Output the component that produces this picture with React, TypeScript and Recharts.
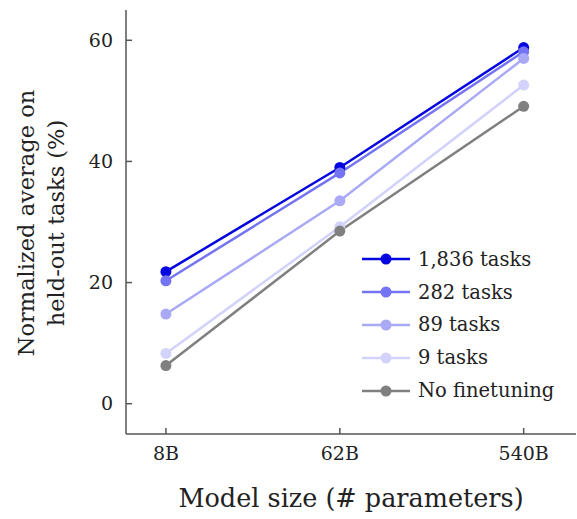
import React from 'react';
import { LineChart, Line, XAxis, YAxis, Legend } from 'recharts';

const modelSizes = [8, 62, 540];
const sizeLabels = ['8B', '62B', '540B'];
const tasks1836 = [21.8, 39.0, 58.8];
const tasks282 = [20.3, 38.1, 58.1];
const tasks89 = [14.8, 33.5, 57.0];
const tasks9 = [8.3, 29.2, 52.6];
const noFinetuning = [6.3, 28.5, 49.1];
const yTicks = [0, 20, 40, 60];

const seriesNames = ['1,836 tasks', '282 tasks', '89 tasks', '9 tasks', 'No finetuning'];
const seriesKeys = ['t1836', 't282', 't89', 't9', 'noft'];
const seriesColors = ['#0505e0', '#7474f2', '#a9a9f6', '#d2d2fa', '#808080'];
const seriesValues = [tasks1836, tasks282, tasks89, tasks9, noFinetuning];

const data = modelSizes.map((size, i) => {
  const row: Record<string, number> = { size };
  seriesKeys.forEach((k, j) => {
    row[k] = seriesValues[j][i];
  });
  return row;
});

const FONT = '"DejaVu Serif", serif';

const YTitle = () => (
  <g fill="#222" fontFamily={FONT} fontSize={22.5}>
    <text transform="translate(34,223) rotate(-90)" textAnchor="middle">Normalized average on</text>
    <text transform="translate(64,223) rotate(-90)" textAnchor="middle">held-out tasks (%)</text>
  </g>
);

const renderLegend = () => (
  <div style={{ fontFamily: FONT, fontSize: 19.5, color: '#222' }}>
    {seriesNames.map((name, i) => (
      <div key={name} style={{ display: 'flex', alignItems: 'center', height: 32.8, whiteSpace: 'nowrap' }}>
        <svg width={48} height={14} style={{ display: 'block' }}>
          <line x1={0} y1={7} x2={48} y2={7} stroke={seriesColors[i]} strokeWidth={2.5} />
          <circle cx={24} cy={7} r={5.5} fill={seriesColors[i]} />
        </svg>
        <span style={{ marginLeft: 8 }}>{name}</span>
      </div>
    ))}
  </div>
);

export default function App() {
  return (
    <div style={{ position: 'absolute', left: 0, top: 0, fontFamily: FONT }}>
      <LineChart width={577} height={519} data={data} margin={{ top: 10, right: 1, bottom: 0, left: 0 }}>
        <XAxis
          dataKey="size"
          type="number"
          scale="log"
          domain={[5, 1000]}
          ticks={modelSizes}
          tickFormatter={(v: number) => sizeLabels[modelSizes.indexOf(v)]}
          height={85}
          tickSize={-6}
          tickMargin={19}
          stroke="#555"
          strokeWidth={1.5}
          tick={{ fill: '#222', fontSize: 19, fontFamily: FONT }}
          allowDataOverflow
          label={{ value: 'Model size (# parameters)', position: 'insideBottom', offset: 12, fill: '#222', fontSize: 25.5, fontFamily: FONT }}
        />
        <YAxis
          type="number"
          domain={[-5, 65]}
          ticks={yTicks}
          width={126}
          tickSize={-6}
          tickMargin={19}
          stroke="#555"
          strokeWidth={1.5}
          tick={{ fill: '#222', fontSize: 19, fontFamily: FONT }}
          label={<YTitle />}
        />
        <Legend
          layout="vertical"
          align="center"
          verticalAlign="middle"
          content={renderLegend}
          wrapperStyle={{ position: 'absolute', left: 362, top: 243, width: 'auto' }}
        />
        {seriesKeys.map((k, i) => (
          <Line
            key={k}
            dataKey={k}
            name={seriesNames[i]}
            stroke={seriesColors[i]}
            strokeWidth={2.5}
            dot={{ r: 5.5, fill: seriesColors[i], stroke: 'none' }}
            activeDot={false}
            isAnimationActive={false}
          />
        ))}
      </LineChart>
    </div>
  );
}
